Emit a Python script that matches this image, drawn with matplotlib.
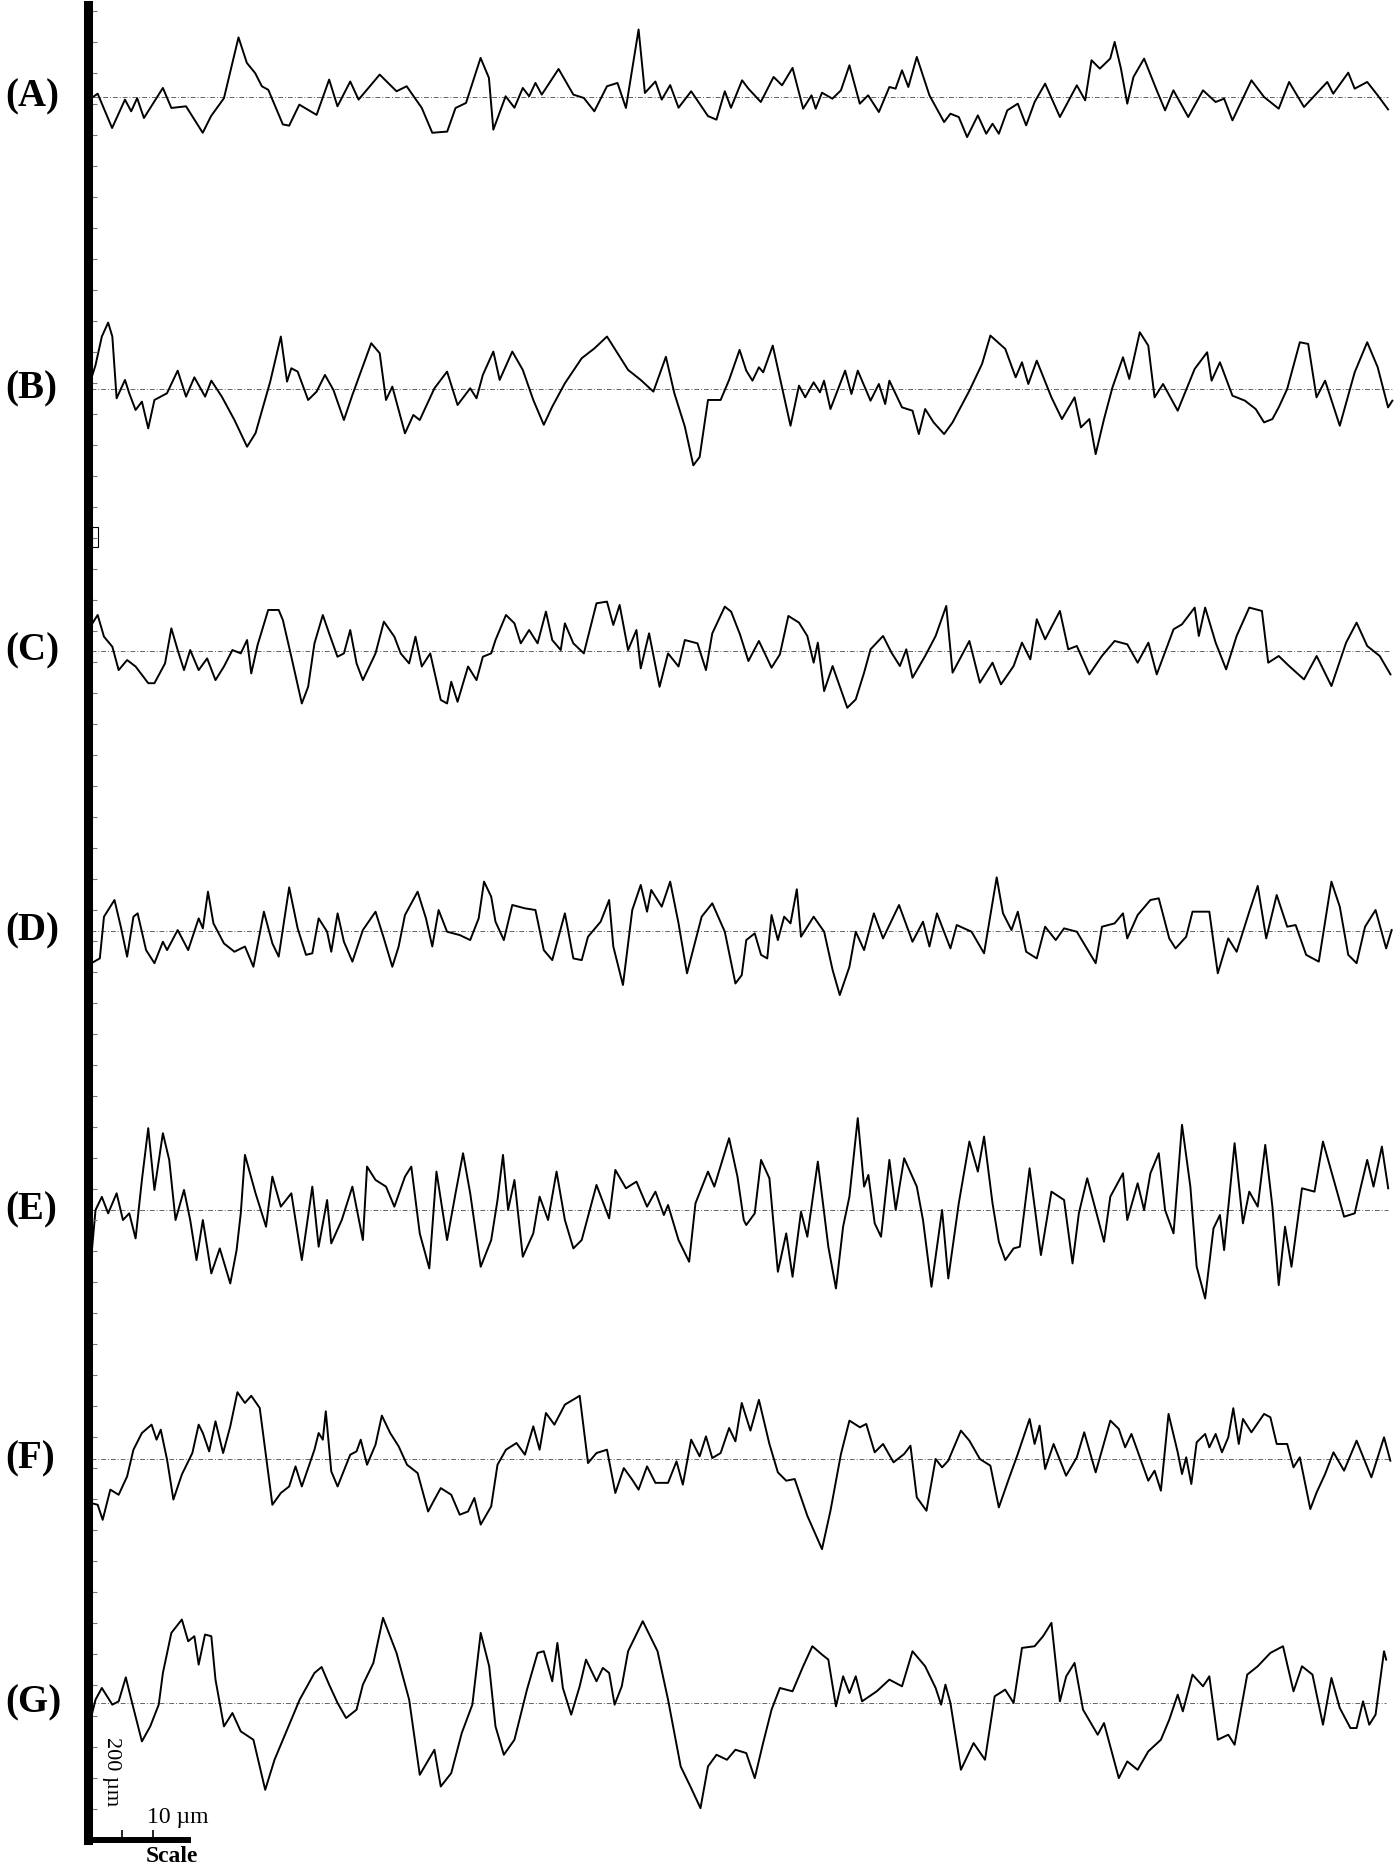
import numpy as np
import matplotlib
matplotlib.use('Agg')
import matplotlib.pyplot as plt
from matplotlib.ticker import MultipleLocator
from matplotlib.patches import Rectangle

# --- profile readings: (position along trace, height above mean line) ---
profile_a = [(78, 0), (81.9, 2.8), (94, -26), (104.8, -2.2), (110, -12), (115, -1), (120.7, -17.6),
             (136.6, 7.6), (143.7, -9.2), (156, -7.8), (170, -30), (177, -16), (187.8, -1), (200, 50),
             (207, 28.6), (214, 20), (219.6, 9), (225, 6), (237.2, -23), (242.5, -24), (251, -6.4),
             (265.5, -15), (276, 14.6), (283, -7.8), (293.7, 13), (300.7, -2.2), (318.4, 18.8),
             (332.5, 4.8), (341, 9), (353.7, -9.2), (362.5, -30), (375, -29), (382, -9.2), (390.8, -5),
             (403, 32.8), (410, 16), (413.7, -27.4), (424, 0.6), (431.4, -9), (438.4, 7.6), (443.7, 0.6),
             (449, 11.8), (454.3, 2), (468.4, 23.5), (480.8, 2), (489.6, -0.8), (498.4, -12), (509, 9),
             (517.8, 11.8), (524.9, -9.2), (535.5, 56.6), (540.8, 3.4), (549.6, 13), (554.9, -2.2),
             (562, 10), (569, -9), (579.6, 4.8), (593.7, -16), (600.8, -19), (607.8, 4.8), (613, -9),
             (622.3, 14), (627.6, 7), (638, -4.2), (648.7, 16.8), (655.8, 9.8), (664.6, 24.4),
             (673.5, -9.8), (680.5, 1.4), (684, -9.8), (689.3, 3.6), (698, -1.4), (705.2, 5.6),
             (712.3, 26.6), (721, -5.6), (728, 1.4), (737, -12.6), (745.8, 8.4), (751, 7), (756.4, 22.4),
             (761.7, 8.4), (768.8, 33.6), (779.4, 1.4), (791.7, -21), (797, -14), (804, -16.8),
             (811, -33.6), (820, -15.4), (827, -30.8), (832.3, -22.4), (837.6, -30.8), (844.7, -11.2),
             (853.5, -5.6), (860.5, -23.8), (867.6, -4.2), (876.4, 11.2), (888.8, -16.8), (903, 9.8),
             (910, -2.8), (915.3, 30.8), (922.3, 23.8), (931, 32.2), (934.7, 46.2), (940, 23.8),
             (945.3, -5.6), (950.5, 16.8), (959.4, 32.2), (970, 5.6), (977, -11.2), (984, 5.6),
             (996.4, -16.8), (1008.8, 5.6), (1019.4, -4.2), (1026.5, -1.4), (1033.5, -19.6),
             (1049.4, 14), (1060, 0), (1072.3, -9.8), (1081, 12.6), (1093.5, -8.4), (1113, 12.6),
             (1118, 2.8), (1130.6, 20.4), (1136, 7), (1146.5, 12.6), (1155.3, 1.4), (1164, -10.4)]

profile_b = [(76.6, 9), (80.1, 20), (85.4, 44), (90.7, 55.7), (94.2, 44), (97.8, -7.8), (104.8, 7.6),
             (108.4, -3.6), (113.7, -17.6), (119, -10.6), (124.3, -33), (129.5, -9.2), (140, -3.6),
             (149, 15.4), (156, -6.4), (163, 9.8), (172, -6.4), (177.2, 7), (186, -6.4), (196.6, -26),
             (207.2, -48.4), (214.3, -37), (226.6, 6.2), (235.5, 44), (240.7, 6.2), (244.3, 17.4),
             (249.6, 14.6), (258.4, -9.2), (265.5, -2.2), (272.5, 11.8), (279.6, -0.8), (288.4, -26),
             (295.5, -5), (311.3, 38.4), (318.4, 30), (323.7, -9.2), (329, 2), (339.6, -37.2),
             (346.6, -21.8), (352, -26), (364.3, 0.6), (374.9, 14.6), (383.7, -13.4), (394.3, 0.6),
             (399.6, -7.8), (404.9, 11.8), (413.7, 31.4), (419, 7.6), (429.6, 31.4), (438.4, 16),
             (447.2, -9.2), (456, -30), (463.1, -14.8), (473.7, 4.8), (487.8, 25.8), (498.4, 34),
             (509, 44), (517.8, 30), (526.7, 16), (537.3, 7.6), (547.9, -2.2), (558.4, 27),
             (565.5, -3.6), (574.3, -31.6), (581.4, -64), (586.7, -57), (593.7, -9.2), (604.3, -9.2),
             (611.4, 7.6), (620.2, 32.8), (625.8, 15.4), (631, 7), (636.4, 18.2), (640, 14), (648, 36.4),
             (655.8, 1.4), (662.9, -30.8), (670, 2.8), (675.2, -7), (682.3, 5.6), (687.6, -2.8),
             (691, 7), (696.4, -16.8), (708.7, 15.4), (714, -4.2), (719.3, 15.4), (730, -9.8),
             (737, 4.2), (742.3, -12.6), (745.8, 7), (756.4, -15.4), (765.2, -18.2), (770.5, -37.8),
             (775.8, -16.8), (782.9, -28), (791.7, -37.8), (798.8, -28), (804, -18.2), (812.9, -1.4),
             (823.5, 21), (830.5, 44.8), (843, 33.6), (851.7, 9.8), (857, 22.4), (862.3, 4.2),
             (869.4, 23.8), (881.7, -7), (890.5, -25.2), (901.1, -7), (906.4, -32.2), (913.5, -25.2),
             (918.8, -54.6), (925.8, -25.2), (932.9, 1.4), (941.7, 26.6), (947, 8.4), (955.8, 47.6),
             (962.9, 36.4), (968.2, -7), (975.3, 4.2), (987.6, -18.2), (1001.8, 16.8), (1012.3, 30.8),
             (1016, 7), (1023, 22.4), (1033.5, -5.6), (1044, -9.8), (1053, -16.8), (1060, -28),
             (1067, -25.2), (1072.3, -15.4), (1079.4, 0), (1090, 39.2), (1097, 37.8), (1104, -7),
             (1111.2, 7), (1123.5, -30.8), (1136, 14), (1146.5, 39.2), (1155.3, 18.2), (1164, -15.4),
             (1167.6, -9.8)]

profile_c = [(76.6, 21.8), (81.9, 30.2), (87.2, 12), (94.2, 3.6), (99.5, -16), (106.6, -7.6),
             (113.7, -13), (124.3, -27), (129.5, -27), (138.4, -10.4), (143.7, 19), (149, 0.8),
             (154.3, -16), (159.5, 0.8), (166.6, -16), (173.7, -6.2), (180.7, -24.4), (187.8, -13),
             (194.9, 0.8), (201.9, -2), (207.2, 9.2), (210.7, -18.8), (216, 5), (224.9, 34.4),
             (233.7, 34.4), (237.2, 26), (244.3, -4.8), (253.1, -44), (258.4, -30), (263.7, 6.4),
             (270.7, 30.2), (276, 14.8), (283, -4.8), (288.4, -2), (293.7, 17.6), (299, -10.4),
             (304.3, -24.4), (314.9, -2), (321.9, 24.6), (330.7, 12), (336, -2), (343.1, -10.4),
             (348.4, 12), (353.7, -13), (360.8, -2), (369.6, -41), (374.9, -44), (378.4, -25.8),
             (383.7, -42.6), (392.5, -13), (399.6, -24.4), (404.9, -4.8), (411.9, -2), (415.5, 9.2),
             (424.3, 30.2), (431.4, 23.2), (436.7, 6.4), (443.7, 17.6), (450.8, 6.4), (457.8, 33),
             (463.1, 9.2), (470.2, 0.8), (473.7, 23.2), (480.8, 6.4), (489.6, -2), (500.2, 40),
             (509, 41.4), (514.3, 21.8), (519.6, 38.6), (526.7, 0.8), (533.7, 17.6), (537.3, -14.6),
             (544.3, 14.8), (553.1, -30), (560.2, -2), (569, -13), (574.3, 9.2), (584.9, 6.4),
             (592, -16), (597.3, 14.8), (607.8, 37.2), (613.1, 33), (620.5, 14), (627.6, -8.4),
             (636.4, 8.4), (647, -14), (654, -2.8), (661.1, 29.4), (670, 23.8), (677, 12.6),
             (682.3, -9.8), (685.8, 7), (691.1, -33.6), (698.2, -12.6), (710.5, -47.6), (717.6, -40.6),
             (724.6, -18.2), (730, 1.4), (740.5, 12.6), (747.6, -1.4), (754.6, -12.6), (760, 1.4),
             (765.2, -22.4), (775.8, -4.2), (784.6, 12.6), (793.5, 37.8), (798.8, -18.2), (812.9, 8.4),
             (821.7, -26.6), (832.3, -9.8), (839.4, -28), (850, -12.6), (857, 7), (864, -7),
             (869.4, 26.6), (876.4, 9.8), (888.8, 33.6), (895.8, 1.4), (903, 4.2), (913.5, -19.6),
             (924, -4.2), (934.7, 8.4), (945.3, 5.6), (954, -9.8), (963, 7), (970, -19.6),
             (984.1, 18.2), (991.2, 22.4), (1001.8, 36.4), (1005.3, 12.6), (1010.6, 36.4), (1019.4, 7),
             (1028.2, -15.4), (1037, 12.6), (1047.6, 36.4), (1058.2, 33.6), (1063.5, -9.8),
             (1072.3, -4.2), (1081, -12.6), (1093.5, -23.8), (1104.1, -4.2), (1116.5, -29.4),
             (1128.8, 7), (1137.6, 23.8), (1146.5, 4.2), (1157, -4.2), (1166, -19.6)]

profile_d = [(76.6, -27), (83.7, -23), (87.2, 12), (96, 26), (101.3, 3.6), (106.6, -21.5), (111.9, 12),
             (115.4, 14.8), (122.5, -16), (129.5, -27), (136.6, -9), (140.1, -16), (149, 0.8),
             (157.8, -16), (166.6, 10.6), (170.1, 2.2), (174.4, 33), (179, 6.4), (187.8, -10.4),
             (196.6, -17.4), (205.4, -13), (212.5, -30), (221.3, 16.2), (228.4, -10.4), (233.7, -21.5),
             (242.5, 36.6), (249.6, 2.2), (256.6, -20), (261.9, -18.7), (267.2, 10.6), (274.3, -0.6),
             (277.8, -17.4), (283.1, 14.8), (288.4, -9), (295.5, -25.7), (304.3, 0.8), (314.9, 16.2),
             (321.9, -6.2), (329, -30), (334.3, -13), (339.6, 13.4), (350.2, 33), (357.2, 10.6),
             (362.5, -13), (367.8, 17.6), (374.9, -0.6), (385.5, -3.4), (394.3, -7.6), (401.4, 10.6),
             (405.9, 41.4), (411.9, 28.8), (415.5, 7.8), (422.5, -7.6), (429.6, 21.8), (440.2, 19),
             (449, 17.6), (456, -16), (463.1, -24.4), (473.7, 14.8), (480.8, -23), (487.8, -24.4),
             (493.1, -4.8), (503.7, 7.8), (510.8, 26), (514.3, -13), (522.4, -45.3), (530.2, 17.6),
             (537.3, 38.6), (542.6, 16.2), (546.1, 34.4), (554.9, 20.4), (562, 41.4), (569, 6.4),
             (576.1, -35.5), (588.4, 12), (597.3, 23.2), (607.8, -0.6), (616.7, -44), (622, -37),
             (625.8, -7.6), (632.9, -2), (638.2, -20), (643.4, -23), (647, 13.4), (652.3, -7.6),
             (657.6, 12), (662.9, 6.4), (668.2, 35), (671.7, -4.8), (682.3, 12), (691.1, -0.6),
             (698.2, -32.7), (704.2, -53.7), (712.3, -30), (717.6, -0.6), (724.6, -16), (732.8, 14.8),
             (740.5, -6.2), (753.9, 21.8), (765.2, -9), (774, 7.8), (779.4, -13), (785.7, 14.8),
             (797, -14.6), (802.3, 5), (814.7, -0.6), (825.2, -18.7), (835.8, 45), (841.1, 14.8),
             (848.2, 0.8), (853.5, 16.2), (860.5, -17.4), (869.4, -23), (876.4, 3.6), (885.3, -7.6),
             (892.3, 2.2), (903, -0.6), (918.8, -27), (924.1, 3.6), (934.7, 6.4), (941.7, 14.8),
             (945.3, -6.2), (954, 13.4), (964.7, 26), (971.7, 27.4), (980.5, -6.2), (985.8, -14.6),
             (994.7, -4.8), (1000, 16.2), (1008.8, 16.2), (1014.1, 16.2), (1021.2, -35.5), (1030, -6.2),
             (1037, -17.4), (1047.6, 16.2), (1054.7, 37.8), (1061.8, -6.2), (1070.6, 30.2),
             (1079.4, 3.6), (1086.5, 5), (1095.3, -20), (1105.9, -25.7), (1116.5, 41.4), (1123.5, 20.4),
             (1130.6, -20), (1137.6, -27), (1144.7, 3.6), (1153.5, 17.6), (1162.4, -14.6), (1167, 0.8)]

profile_e = [(76.6, -39), (80.1, 0), (85.4, 11), (90.7, -2.8), (97.8, 14), (103.1, -8.4), (108.4, -2.8),
             (113.7, -23.8), (119, 25.2), (124.3, 68.6), (129.5, 16.8), (136.6, 64.4), (141.9, 42),
             (147.2, -8.4), (154.3, 16.8), (159.5, -8.4), (164.8, -42), (170.1, -8.4), (177.2, -53.2),
             (184.3, -32.2), (193.1, -61.6), (198.4, -33.6), (201.9, -2.8), (205.4, 46.2), (214.3, 14),
             (223.1, -14), (228.4, 28), (235.5, 2.8), (244.3, 14), (253.1, -42), (261.9, 19.6),
             (267.2, -30.8), (274.3, 8.4), (277.8, -28), (286.6, -8.4), (295.5, 19.6), (304.3, -25.2),
             (307.8, 36.4), (314.9, 25.2), (323.7, 19.6), (330.7, 2.8), (339.6, 28), (344.9, 36.4),
             (352, -19.6), (360, -49), (366, 32.2), (374.9, -25.2), (382, 14), (388.3, 47.6),
             (394.3, 14), (403.1, -47.6), (411.9, -25.2), (417.2, 8.4), (421.8, 46.2), (426.1, 0),
             (431.4, 25.2), (438.4, -39.2), (447.2, -19.6), (452.5, 11.2), (459.6, -8.4), (466.7, 32.2),
             (473.7, -8.4), (480.8, -32.2), (487.8, -25.2), (500.2, 21), (510.8, -7), (516, 33.6),
             (524.9, 18.2), (533.7, 23.8), (542.6, 2.8), (549.6, 15.4), (556.7, -4.2), (560.2, 4.2),
             (569, -25.2), (577.9, -43.4), (583.2, 5.6), (593.7, 32.2), (599, 19.6), (611.4, 60.2),
             (618.4, 28), (623.7, -8.4), (625.8, -12.6), (632.9, -2.8), (638.2, 42), (645.2, 26.6),
             (652.3, -51.8), (659.3, -19.6), (664.6, -56), (671.7, -1.4), (677, -22.4), (685.8, 40.6),
             (694.6, -30.8), (701, -65.8), (707, -14), (712.3, 11.2), (719.3, 77), (724.6, 19.6),
             (728.2, 29.4), (733.5, -11.2), (738.8, -22.4), (745.8, 42), (751.1, 0), (758.2, 43.4),
             (768.8, 19.6), (774, -8.4), (781.1, -64.4), (790, 0), (795.2, -57.4), (804, 5.6),
             (812.9, 57.4), (820, 32.2), (825.2, 61.6), (832.3, 5.6), (837.6, -26.6), (843, -42),
             (850, -32.2), (855.2, -30.8), (863.4, 35), (872.9, -37.8), (881.7, 15.4), (892.3, 8.4),
             (899.4, -44.8), (904.7, -2.8), (911.7, 26.6), (918.8, 0), (925.8, -26.6), (931.1, 11.2),
             (941.7, 30.8), (945.3, -8.4), (954, 22.4), (959.4, 0), (964.7, 30.8), (971.7, 47.6),
             (977, 0), (984.1, -19.6), (991.2, 71.4), (998.2, 19.6), (1003.5, -47.6), (1010.6, -74.2),
             (1017.6, -15.4), (1023, -4.2), (1026.5, -33.6), (1035.3, 56), (1042.3, -11.2),
             (1047.6, 15.4), (1054.7, 2.8), (1061, 54.6), (1067, 2.8), (1072.3, -63), (1077.6, -14),
             (1083, -47.6), (1091.8, 18.2), (1102.3, 15.4), (1109.4, 57.4), (1120, 19.6),
             (1127.1, -5.6), (1136, -2.8), (1141.2, 19.6), (1146.5, 42), (1151.8, 19.6), (1158.8, 53.2),
             (1164.1, 18.2)]

profile_f = [(76.6, -37), (81.9, -38.4), (86.1, -51), (92.5, -25.7), (99.5, -30), (106.6, -14.6),
             (111.9, 7.8), (119, 21.8), (127.1, 28.8), (131.3, 16.2), (134.8, 24.6), (140.1, -0.6),
             (145.4, -34), (152.5, -13), (161.3, 5), (166.6, 28.8), (170.1, 21.8), (175.4, 6.4),
             (180.7, 31.6), (187.1, 5), (193.1, 27.4), (199.1, 56), (205.4, 47), (210.7, 53),
             (217.8, 42.8), (223.1, 2.2), (228.4, -38.4), (235.5, -28.5), (242.5, -23), (247.8, -6.2),
             (253.1, -23), (263.7, 7.8), (267.2, 21.8), (270.7, 16.2), (273.2, 40), (277.8, -10.4),
             (283.1, -23), (293.7, 3.6), (299, 6.4), (302.5, 16.2), (307.8, -4.8), (314.9, 12),
             (320.2, 36.4), (327.2, 21.8), (334.3, 10.6), (341.3, -4.8), (350.2, -11.8), (359, -44),
             (364.3, -34), (369.6, -24.4), (378.4, -30), (385.5, -46.7), (392.5, -44), (397.8, -32.7),
             (403.1, -55), (411.9, -39.7), (417.2, -4.8), (424.3, 7.8), (433.1, 13.4), (440.2, 3.6),
             (447.2, 27.4), (452.5, 7.8), (457.8, 38.6), (464.9, 28.8), (473.7, 45.6), (486.1, 53),
             (493.1, -3.4), (500.2, 5), (509, 7.8), (516, -28.5), (523.1, -7.6), (530.2, -17.4),
             (535.5, -25.7), (542.6, -6.2), (549.6, -20), (560.2, -20), (567.3, -2), (572.6, -21.5),
             (579.6, 16.2), (586.7, 2.2), (592, 19), (597.3, 0.8), (604.3, 5), (611.4, 26),
             (616.7, 14.8), (622, 47), (629.3, 23.8), (636.4, 49.6), (645.2, 12.6), (652.3, -11.2),
             (659.3, -18.2), (666.4, -16.8), (677, -47.6), (689.3, -75.6), (696.4, -43.4), (705.2, 4.2),
             (712.3, 32.2), (721.1, 26.6), (726.4, 29.4), (733.5, 5.6), (740.5, 12.6), (749.3, -2.8),
             (758.2, 4.2), (763.5, 11.2), (768.8, -32.2), (776.9, -43.4), (784.6, 0), (790, -7),
             (795.2, -1.4), (805.8, 23.8), (812.9, 15.4), (821.7, 0), (830.5, -5.6), (837.6, -40.6),
             (846.4, -15.4), (853.5, 4.2), (863.4, 33.6), (867.6, 12.6), (871.8, 28), (876.4, -8.4),
             (883.5, 12.6), (894, -14), (903, 1.4), (909.2, 22.4), (918.8, -11.2), (931.1, 32.2),
             (938.2, 25.2), (943.5, 9.8), (948.8, 21), (962.9, -18.2), (968.2, -9.8), (973.5, -26.6),
             (979.9, 37.8), (987.6, 5.6), (991.2, -12.6), (994.7, 1.4), (999, -21), (1003.5, 14),
             (1010.6, 21), (1014.1, 9.8), (1019.4, 21), (1024.7, 5.6), (1030, 18.2), (1034.2, 42.6),
             (1038.8, 12.6), (1042.3, 33.6), (1049.4, 22.4), (1060, 37.8), (1065.3, 35), (1070.6, 12.6),
             (1079.4, 12.6), (1084.7, -7), (1090, 1.4), (1098.8, -42), (1104.1, -28), (1111.2, -12.6),
             (1118.2, 5.6), (1127.1, -9.8), (1137.6, 15.4), (1150, -15.4), (1160.6, 18.2),
             (1165.9, -1.4)]

profile_g = [(76.6, -11.2), (80.1, 2.8), (85.4, 12.6), (94.2, -1.4), (99.5, 1.4), (105.5, 21.5),
             (110.1, 2.8), (119, -32.2), (126, -19.6), (133.1, -1.4), (136.6, 25.2), (143.7, 58.8),
             (152.5, 70), (157.8, 51.8), (163, 56), (166.6, 32.2), (171.9, 57.4), (177.2, 56),
             (180.7, 19.6), (187.8, -19.6), (194.9, -8.4), (201.9, -23.8), (212.5, -30.8),
             (222.4, -72.8), (230.2, -47.6), (240.7, -22.4), (251.3, 2.8), (263.7, 25.2), (269.7, 30.2),
             (276, 15.4), (283.1, 0), (290.2, -12.6), (299, -5.6), (304.3, 15.4), (313.1, 33.6),
             (321.2, 71.4), (332.5, 42), (343.1, 2.8), (352, -60.2), (364.3, -39.2), (369.6, -70),
             (378.4, -58.8), (387.2, -25.2), (396.1, -1.4), (403.1, 58.8), (410.2, 30.8), (415.5, -19.6),
             (422.5, -43.4), (431.4, -30.8), (441.9, 11.2), (450.8, 42), (456, 43.4), (463.1, 18.2),
             (467.4, 50.4), (472, 12.6), (479, -9.8), (486.1, 14), (491.4, 36.4), (500.2, 18.2),
             (505.5, 29.4), (510.8, 25.2), (515.4, -1.4), (521.4, 14), (526.7, 43.4), (539, 68.6),
             (551.4, 43.4), (560.2, 2.8), (570.8, -53.2), (579.6, -71.4), (587.4, -88.2), (593.7, -53.2),
             (600.8, -43.4), (609.6, -47.6), (616.7, -39.2), (625.8, -42), (632.9, -63), (639.9, -33.6),
             (647, -5.6), (654, 12.6), (664.6, 9.8), (673.5, 30.8), (681.2, 47.6), (689.3, 40.6),
             (694.6, 36.4), (701, -2.8), (707, 22.4), (712.3, 8.4), (717.6, 22.4), (722.9, 1.4),
             (735.2, 9.8), (745.8, 19.6), (756.4, 14), (765.2, 43.4), (775.8, 30.8), (784.6, 12.6),
             (789.2, -1.4), (792.8, 15.4), (797, 0), (805.8, -56), (816.4, -33.6), (826, -47.6),
             (834.1, 5.6), (842.9, 11.2), (850, 0), (857, 46.2), (867.6, 47.6), (874.7, 56),
             (881.7, 67.2), (888.8, 1.4), (894.1, 22.4), (901.1, 33.6), (908.2, -5.6), (920.5, -26.6),
             (925.8, -16.8), (938.2, -63), (945.3, -49), (954, -56), (962.9, -40.6), (973.5, -30.8),
             (980.5, -14), (987.6, 7), (991.9, -7), (1000, 23.8), (1008.8, 14), (1014.1, 22.4),
             (1021.2, -30.8), (1030, -26.6), (1035.3, -35), (1045.9, 23.8), (1054.7, 30.8),
             (1065.3, 42), (1075.9, 47.6), (1084.7, 9.8), (1091.8, 30.8), (1100.6, 23.8),
             (1109.4, -18.2), (1116.5, 21), (1123.5, -4.2), (1132.4, -21), (1137.6, -21), (1143, 1.4),
             (1148.2, -18.2), (1153.5, -9.8), (1160.6, 43.4), (1162.4, 36.4)]

labels = ['(A)', '(B)', '(C)', '(D)', '(E)', '(F)', '(G)']
profiles = [profile_a, profile_b, profile_c, profile_d, profile_e, profile_f, profile_g]

# --- layout (pixels of the 1400x1870 output) ---
W, H = 1400, 1870
baseline_px = [97, 389, 651, 931, 1210, 1459, 1703]
unit = W / 1174.0      # one reading unit in output pixels
half = 110             # half band height in reading units
serif = ['Liberation Serif', 'DejaVu Serif']

fig = plt.figure(figsize=(W / 100, H / 100), dpi=100)

for lab, yb, prof in zip(labels, baseline_px, profiles):
    x, h = np.array(prof).T
    band = half * unit
    ax = fig.add_axes([0, 1 - (yb + band) / H, 1, 2 * band / H])
    ax.set_xlim(0, 1174)
    ax.set_ylim(-half, half)
    ax.axis('off')
    # mean line
    ax.hlines(0, x.min(), x.max(), colors='#666666', linewidth=0.7,
              linestyles=(0, (5, 2, 1, 2)))
    ax.plot(x, h, color='black', linewidth=1.4)
    fig.text(5 / W, 1 - yb / H, lab, family=serif, fontweight='bold',
             fontsize=28, ha='left', va='center')

# thick frame on the left and the scale bar at the bottom
fr = fig.add_axes([87.5 / W, 1 - 1840 / H, (188 - 87.5) / W, (1840 - 5) / H])
fr.patch.set_alpha(0)
fr.spines['top'].set_visible(False)
fr.spines['right'].set_visible(False)
fr.spines['left'].set_linewidth(6.5)
fr.spines['bottom'].set_linewidth(4.3)
fr.spines['left'].set_capstyle('projecting')
fr.spines['bottom'].set_capstyle('projecting')
fr.set_xlim(0, 100.5)
fr.set_ylim(0, 1835)
fr.yaxis.set_major_locator(MultipleLocator(31))
fr.set_xticks([34.5, 65.5])
fr.tick_params(axis='y', direction='in', length=6.5, width=0.8, colors='#777777',
               labelleft=False)
fr.tick_params(axis='x', direction='in', length=7, width=1.2, labelbottom=False)
fr.add_patch(Rectangle((4.5, 1293), 6, 20, facecolor='white', edgecolor='black',
                       linewidth=0.8, clip_on=False))

fig.text(112 / W, 1 - 1772 / H, '200 \u00b5m', family=serif, fontsize=16,
         rotation=-90, ha='center', va='center')
fig.text(178 / W, 1 - 1818 / H, '10 \u00b5m', family=serif, fontsize=17,
         ha='center', va='center')
fig.text(172 / W, 1 - 1857 / H, 'Scale', family=serif, fontsize=17,
         fontweight='bold', ha='center', va='center')

fig.savefig('out.png', dpi=100, facecolor='white')
